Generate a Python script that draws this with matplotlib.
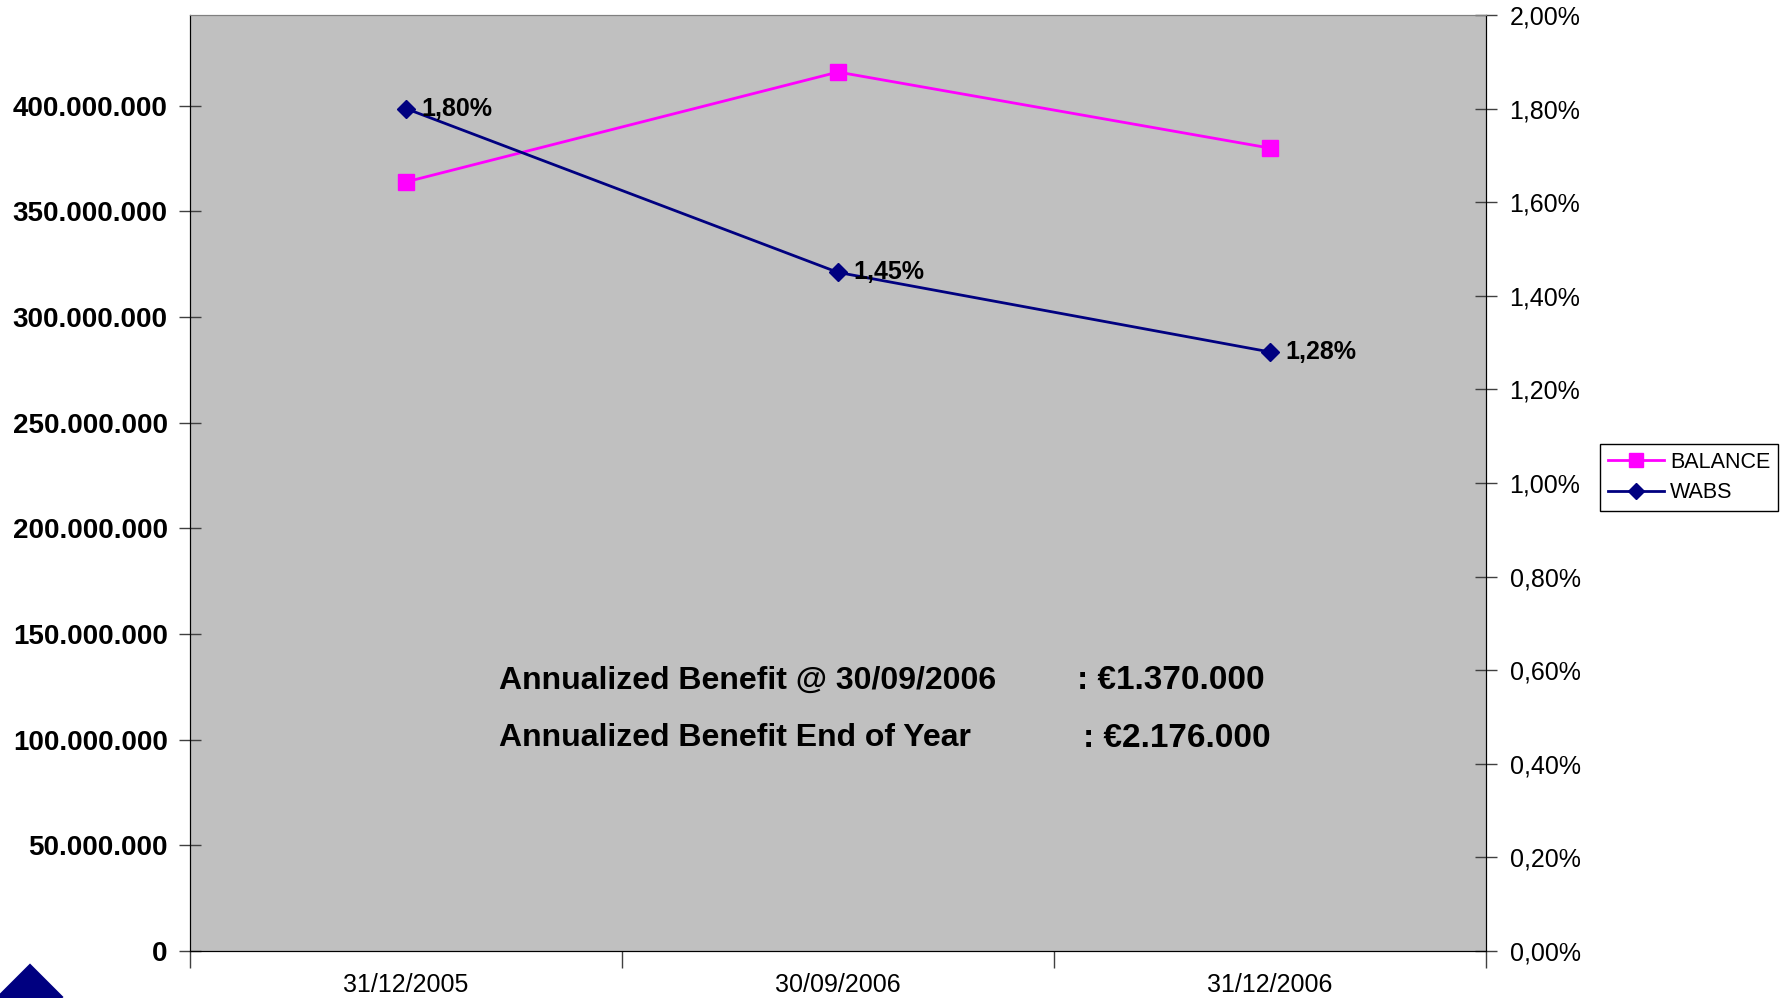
import matplotlib.pyplot as plt
from matplotlib.patches import Polygon
from matplotlib.lines import Line2D

plt.rcParams['font.family'] = ['Liberation Sans', 'DejaVu Sans']

# data
dates = ['31/12/2005', '30/09/2006', '31/12/2006']
balance = [364000000, 416000000, 380000000]
wabs = [1.80, 1.45, 1.28]
wabs_labels = ['1,80%', '1,45%', '1,28%']
left_ticks = [0, 50e6, 100e6, 150e6, 200e6, 250e6, 300e6, 350e6, 400e6]
right_ticks = [0, 0.2, 0.4, 0.6, 0.8, 1.0, 1.2, 1.4, 1.6, 1.8, 2.0]
notes = [('Annualized Benefit @ 30/09/2006', ': \u20ac1.370.000'),
         ('Annualized Benefit End of Year', ': \u20ac2.176.000')]

pink = '#FF00FF'
navy = '#000080'

fig = plt.figure(figsize=(17.82, 9.98), dpi=100)
ax = fig.add_axes([190 / 1782, 1 - 951 / 998, 1296 / 1782, 936 / 998])
ax.set_facecolor('#C0C0C0')
ax2 = ax.twinx()

x = list(range(len(dates)))
ax.plot(x, balance, color=pink, lw=2, marker='s', ms=11, zorder=3)
ax2.plot(x, wabs, color=navy, lw=2, marker='D', ms=9, zorder=3)

for xi, v, lab in zip(x, wabs, wabs_labels):
    ax2.annotate(lab, (xi, v), xytext=(11, 0), textcoords='offset points',
                 va='center', ha='left', fontsize=18, fontweight='bold')

ax.set_xlim(-0.5, 2.5)
ax.set_ylim(0, 443e6)
ax2.set_ylim(0, 2.0)

ax.set_yticks(left_ticks)
ax.set_yticklabels(['{:,.0f}'.format(t).replace(',', '.') for t in left_ticks],
                   fontsize=20, fontweight='bold')
ax2.set_yticks(right_ticks)
ax2.set_yticklabels(['{:.2f}%'.format(t).replace('.', ',') for t in right_ticks],
                    fontsize=18)

ax.set_xticks([-0.5, 0.5, 1.5, 2.5])
ax.set_xticklabels([])
ax.set_xticks(x, minor=True)
ax.set_xticklabels(dates, minor=True, fontsize=18)
ax.tick_params(axis='x', which='major', direction='out', length=12, width=1, color='#404040')
ax.tick_params(axis='x', which='minor', length=0, pad=16)
ax.tick_params(axis='y', direction='inout', length=16, width=1, color='#404040', pad=8)
ax2.tick_params(axis='y', direction='inout', length=16, width=1, color='#404040', pad=9)

for a in (ax, ax2):
    a.spines['top'].set_color('#808080')
    for s in ('left', 'right', 'bottom'):
        a.spines[s].set_color('black')

for i, (left, right) in enumerate(notes):
    y = 0.2885 - i * 0.061
    ax.text(0.2384, y, left, transform=ax.transAxes, fontsize=23,
            fontweight='bold', va='center', ha='left')
    ax.text(0.6844 + i * 0.0046, y, right, transform=ax.transAxes, fontsize=24,
            fontweight='bold', va='center', ha='left')

handles = [Line2D([], [], color=pink, lw=2, marker='s', ms=10),
           Line2D([], [], color=navy, lw=2, marker='D', ms=8)]
fig.legend(handles, ['BALANCE', 'WABS'], loc='upper left',
           bbox_to_anchor=(1600 / 1782, 1 - 444 / 998), fontsize=15.5,
           frameon=True, fancybox=False, edgecolor='black', framealpha=1,
           borderpad=0.35, handlelength=2.6, handletextpad=0.3, labelspacing=0.45,
           borderaxespad=0)

# corner logo (partly cut off by the page edge)
def diamond(cx, cy, r):
    pts = [(cx, cy - r), (cx + r, cy), (cx, cy + r), (cx - r, cy)]
    return Polygon([(px / 1782, 1 - py / 998) for px, py in pts],
                   closed=True, transform=fig.transFigure, facecolor=navy,
                   edgecolor='white', lw=1.5)

fig.patches.append(diamond(30, 997, 35))
fig.patches.append(diamond(67, 1034, 35))
fig.patches.append(diamond(-7, 1034, 35))

fig.savefig('out.png', dpi=100)
